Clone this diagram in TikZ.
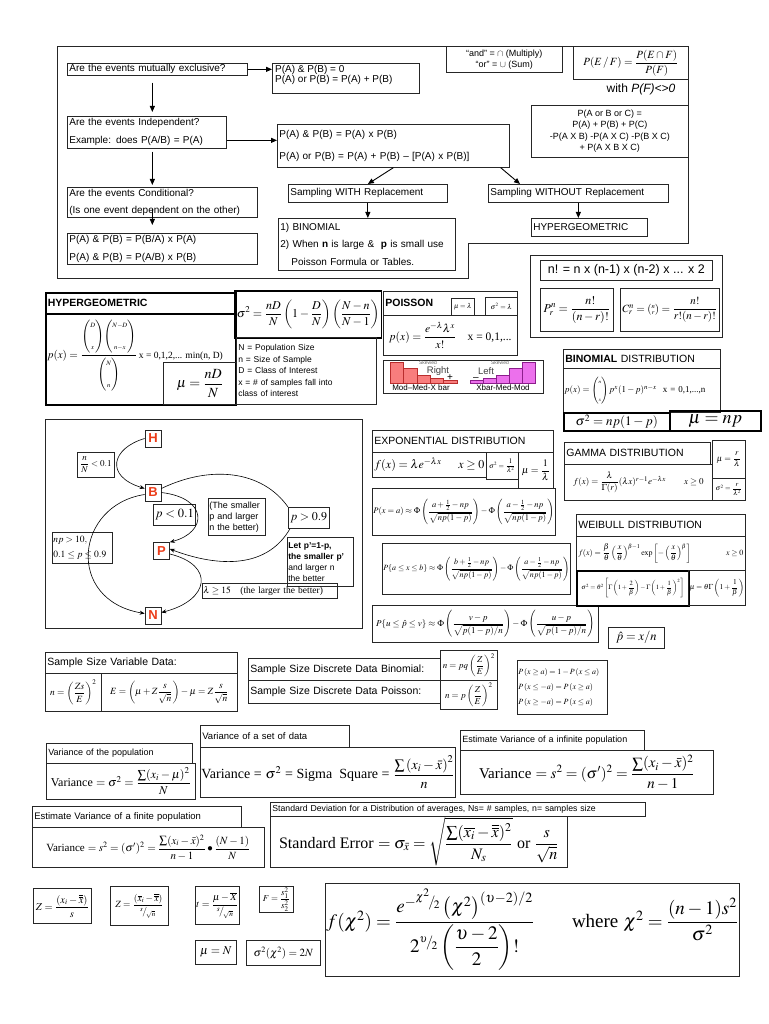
\documentclass[tikz,border=0pt]{standalone}
\usepackage{amsmath}
\usepackage{mathptmx}
\usepackage[no-math]{fontspec}
\setmainfont{Liberation Sans}
\newfontfamily\tms{Liberation Serif}
\usetikzlibrary{arrows.meta,positioning}

\definecolor{tagred}{RGB}{235,60,25}
\definecolor{rbarfill}{RGB}{248,125,125}
\definecolor{rbarline}{RGB}{185,45,45}
\definecolor{lbarfill}{RGB}{236,112,236}
\definecolor{lbarline}{RGB}{140,30,140}

\newcommand{\fs}[2]{\fontsize{#1}{#2}\selectfont}
\newcommand{\tb}[3][5pt]{\left(\begin{array}{@{}c@{}}\scriptscriptstyle #2\\[#1]\scriptscriptstyle #3\end{array}\right)}

\begin{document}
\begin{tikzpicture}[x=1pt, y=-1pt,
    % boxes are placed by their top left corner
    box/.style={draw=black!85, line width=0.7pt, inner sep=2pt, anchor=north west},
    thk/.style={line width=1.5pt, draw=black},
    sz/.style 2 args={minimum width=#1pt, minimum height=#2pt},
    lft/.style={text width=#1pt, align=left},
    arr/.style={-{Triangle[length=6pt,width=5pt]}, line width=0.9pt},
    curv/.style={-{Stealth[length=5pt,width=4pt]}, line width=0.6pt},
    tag/.style={draw=black!85, line width=0.7pt, inner sep=0pt, minimum width=16pt, minimum height=17pt, text=tagred, font=\fs{13}{13}\bfseries},
    txt/.style={inner sep=0pt}
  ]
\useasboundingbox (0,0) rectangle (768,1024);

% --- regras de probabilidade (moldura de cima) ---
\draw[line width=0.8pt, draw=black!85] (57,46) -- (688,46) -- (688,243) -- (468,243) -- (468,278) -- (57,278) -- cycle;
\node[box, sz={180}{12}, lft=176, inner ysep=0pt, font=\fs{10}{12}] (mutex) at (67,63) {Are the events mutually exclusive?};
\node[box, sz={147}{30}] (mutexres) at (272,63) {};
\node[txt, anchor=north west, align=left, font=\fs{10}{10}] (mutexres-t) at ([xshift=3pt,yshift=-2pt]mutexres.north west) {P(A) \& P(B) = 0\\P(A) or P(B) = P(A) + P(B)};
\node[box, sz={159}{32}, lft=155, font=\fs{10}{18}] (indep) at (67,116) {Are the events Independent?\\Example: does P(A/B) = P(A)};
\node[box, sz={232}{43}, lft=228, font=\fs{10}{22}] (indepres) at (277,124) {P(A) \& P(B) = P(A) x P(B)\\P(A) or P(B) = P(A) + P(B) -- [P(A) x P(B)]};
\node[box, sz={190}{30}, lft=186, font=\fs{10}{17}] (cond) at (67,187) {Are the events Conditional?\\(Is one event dependent on the other)};
\node[box, sz={190}{31}, lft=186, font=\fs{10}{18}] (condres) at (67,233) {P(A) \& P(B) = P(B/A) x P(A)\\P(A) \& P(B) = P(A/B) x P(B)};
\node[box, sz={159}{18}, lft=155, font=\fs{10}{12}] (withr) at (288,184) {Sampling WITH Replacement};
\node[box, sz={177}{52}, lft=173, font=\fs{10}{17.5}] (binpois) at (278,218) {1) BINOMIAL\\2) When \textbf{n} is large \& \ \textbf{p} is small use\\\hspace*{11pt}Poisson Formula or Tables.};
\node[box, sz={116}{26}, align=center, font=\fs{9}{11}] (andor) at (446,46) {``and'' = $\cap$ (Multiply)\\``or'' = $\cup$ (Sum)};
\node[box, sz={115}{33}, font=\fs{11}{13}] (pef) at (573,46) {$P(E\,/\,F)=\dfrac{P(E\cap F)}{P(F)}$};
\node[txt, font=\fs{12}{14}] (pefnote) at (641,89) {with \textit{P(F)<>0}};
\node[box, sz={157}{52}, align=center, font=\fs{9}{11.5}] (pabc) at (531,105) {P(A or B or C) =\\P(A) + P(B) + P(C)\\-P(A X B) -P(A X C) -P(B X C)\\+ P(A X B X C)};
\node[box, sz={180}{18}, lft=176, font=\fs{10}{12}] (withoutr) at (488,184) {Sampling WITHOUT Replacement};
\node[box, sz={116}{18}, lft=112, font=\fs{10}{12}] (hyperA) at (531,218) {HYPERGEOMETRIC};

\draw[arr] (mutex.east) -- (mutex.east -| mutexres.west);
\draw[arr, shorten <=7pt, shorten >=4pt] ([xshift=-5pt]mutex.south) -- ([xshift=-5pt]mutex.south |- indep.north);
\draw[arr] ([yshift=-8pt]indep.east) -- ([yshift=-8pt]indep.east -| indepres.west);
\draw[arr, shorten <=3pt, shorten >=2pt] ([xshift=-5pt]mutex.south |- indep.south) -- ([xshift=-5pt]mutex.south |- cond.north);
\draw[arr, shorten >=8pt] ([xshift=-5pt,yshift=9pt]mutex.south |- cond.south) -- ([xshift=-5pt]mutex.south |- condres.north);
\draw[arr] (indepres.south) -- (withr.north);
\draw[arr] ([xshift=-9pt]indepres.south east) -- ([xshift=32pt]withoutr.north west);
\draw[arr] (withr.south) -- (withr.south |- binpois.north);
\draw[arr] (withoutr.south) -- (withoutr.south |- hyperA.north);

% --- hipergeometrica ---
\node[box, thk, sz={190}{21}, lft=186, font=\fs{10.5}{12}\bfseries] (hyptitle) at (45,292) {HYPERGEOMETRIC};
\node[box, thk, sz={190}{91}] (hypbox) at (45,313) {};
\node[txt, anchor=west, font=\fs{11}{13}] (hypf) at ([xshift=2pt,yshift=4pt]hypbox.west) {$p(x)=\dfrac{\tb[9pt]{D}{x}\!\tb[9pt]{N-D}{n-x}}{\tb[9pt]{N}{n}}$\,{\tms\fs{9.5}{12}x = 0,1,2,... min(n, D)}};
\node[box, sz={73}{42}, font=\fs{14}{16}] (hypmu) at (163,362) {$\mu=\dfrac{nD}{N}$};
\node[box, thk, sz={138}{47}, font=\fs{12}{14}] (hypsig) at (234,290) {$\sigma^2=\dfrac{nD}{N}\left(1-\dfrac{D}{N}\right)\left(\dfrac{N-n}{N-1}\right)$};
\node[box, sz={140}{67}, lft=136, font=\fs{8.5}{11.5}] (hypvars) at (236,337) {N = Population Size\\n = Size of Sample\\D = Class of Interest\\x = \# of samples fall into\\class of interest};

% --- poisson ---
\node[box, sz={134}{24}, lft=130, font=\fs{10.5}{12}\bfseries] (poistitle) at (383,291) {POISSON};
\node[box, sz={23}{17}, inner sep=0pt, font=\fs{7}{8}] (poismu) at (451,298) {$\mu=\lambda$};
\node[box, sz={32}{18}, inner sep=0pt, font=\fs{7}{8}] (poissig) at (485,297) {$\sigma^2=\lambda$};
\node[box, sz={134}{40}, font=\fs{11.5}{14}] (poisf) at (383,315) {$p(x)=\dfrac{e^{-\lambda}\lambda^x}{x!}$\quad{\tms x = 0,1,...}};

% grafico de assimetria
\draw[line width=0.7pt, draw=black!85] (383,360) rectangle (543,393);
\foreach \i/\t in {0/362,1/368,2/375,3/378,4/380}
  \draw[fill=rbarfill, draw=rbarline, line width=0.6pt] ({390+13.4*\i},383) rectangle ++(13.4,{\t-383});
\foreach \i/\t in {0/380,1/378,2/375,3/368,4/362}
  \draw[fill=lbarfill, draw=lbarline, line width=0.6pt] ({470+13*\i},383) rectangle ++(13,{\t-383});
\node[txt, font=\fs{5}{6}, text=black!60] (skr) at (428,363) {Skewed};
\node[txt, font=\fs{9.5}{10}, text=black!75] (rgt) at (438,371) {Right};
\node[txt, font=\fs{10}{10}] (plus) at (450,378) {+};
\node[txt, font=\fs{5}{6}, text=black!60] (skl) at (500,363) {Skewed};
\node[txt, font=\fs{9.5}{10}, text=black!75] (lefttxt) at (486,371) {Left};
\node[txt, font=\fs{10}{10}] (minus) at (476,379) {--};
\node[txt, font=\fs{8}{9}] (modr) at (421,388) {Mod--Med-X bar};
\node[txt, font=\fs{8}{9}] (modl) at (503,388) {Xbar-Med-Mod};

% --- fatorial, permutacao, combinacao ---
\node[box, sz={192}{82}] (nfact) at (530,255) {};
\node[box, sz={172}{20}, font=\fs{12.5}{14}] (nfline) at (540,260) {n! = n x (n-1) x (n-2) x ... x 2};
\node[box, sz={73}{43}, font=\fs{12}{14}] (perm) at (540,288) {$P_r^n=\dfrac{n!}{(n-r)!}$};
\node[box, sz={92}{43}, font=\fs{11}{13}] (comb) at (620,288) {$C_r^n={\scriptstyle\binom{n}{r}}=\dfrac{n!}{r!(n-r)!}$};

% --- binomial ---
\node[box, sz={157}{19}, lft=153, font=\fs{10.5}{12}] (bintitle) at (563,349) {\textbf{BINOMIAL} DISTRIBUTION};
\node[box, sz={157}{44}, lft=155, inner xsep=1pt, font=\fs{9}{11}] (binf) at (563,368) {$p(x)=\tb[7pt]{n}{x}p^x(1-p)^{n-x}$\ \ {\tms x = 0,1,...,n}};
\node[box, thk, sz={106}{18}, font=\fs{13}{14}] (binsig) at (563,412) {$\sigma^2=np(1-p)$};
\node[box, thk, sz={91}{20}, font=\fs{18}{19}] (binmu) at (669,410) {$\boldsymbol{\mu=np}$};

% --- exponencial e aproximacoes normais ---
\node[box, sz={181}{22}, lft=177, font=\fs{10.5}{12}] (exptitle) at (372,430) {EXPONENTIAL DISTRIBUTION};
\node[box, sz={114}{25}, lft=110, font=\fs{12}{14}] (expf) at (372,452) {$f(x)=\lambda e^{-\lambda x}$\hfill$x\ge 0$};
\node[box, sz={32}{27}, inner sep=0pt, font=\fs{7}{8}] (expsig) at (486,452) {$\sigma^2=\dfrac{1}{\lambda^2}$};
\node[box, sz={35}{36}, inner sep=1pt, font=\fs{10}{12}] (expmu) at (518,452) {$\mu=\dfrac{1}{\lambda}$};
\node[box, sz={181}{47}, inner sep=1pt, font=\fs{8.5}{10}] (norma) at (372,488) {$P(x=a)\approx\Phi\left(\dfrac{a+\frac{1}{2}-np}{\sqrt{np(1-p)}}\right)-\Phi\left(\dfrac{a-\frac{1}{2}-np}{\sqrt{np(1-p)}}\right)$};
\node[box, sz={183}{51}, inner sep=1pt, font=\fs{8}{10}] (normb) at (382,543) {$P\{a\le x\le b\}\approx\Phi\left(\dfrac{b+\frac{1}{2}-np}{\sqrt{np(1-p)}}\right)-\Phi\left(\dfrac{a-\frac{1}{2}-np}{\sqrt{np(1-p)}}\right)$};
\node[box, sz={226}{37}, inner sep=1pt, font=\fs{9}{11}] (normc) at (372,605) {$P\{u\le\hat p\le v\}\approx\Phi\left(\dfrac{v-p}{\sqrt{p(1-p)/n}}\right)-\Phi\left(\dfrac{u-p}{\sqrt{p(1-p)/n}}\right)$};
\node[box, sz={56}{21}, font=\fs{12.5}{14}] (phat) at (608,627) {$\hat p=x/n$};

% --- gama ---
\node[box, sz={146}{22}, lft=142, font=\fs{10.5}{12}] (gamtitle) at (564,442) {GAMMA DISTRIBUTION};
\node[box, sz={148}{36}, inner sep=1pt, font=\fs{9}{11}] (gamf) at (564,464) {$f(x)=\dfrac{\lambda}{\Gamma(r)}(\lambda x)^{r-1}e^{-\lambda x}$\qquad$x\ge 0$};
\node[box, sz={33}{38}, inner sep=0pt, font=\fs{8.5}{10}] (gammu) at (712,440) {$\mu=\dfrac{r}{\lambda}$};
\node[box, sz={33}{22}, inner sep=0pt, font=\fs{7}{8}] (gamsig) at (712,478) {$\sigma^2=\dfrac{r}{\lambda^2}$};

% --- weibull ---
\node[box, sz={169}{22}, lft=165, font=\fs{10.5}{12}] (weibtitle) at (576,514) {WEIBULL DISTRIBUTION};
\node[box, sz={169}{34}, lft=165, font=\fs{8}{10}] (weibf) at (576,536) {$f(x)=\dfrac{\beta}{\theta}\left(\dfrac{x}{\theta}\right)^{\beta-1}\exp\left[-\left(\dfrac{x}{\theta}\right)^{\beta}\right]$\hfill$x\ge 0$};
\node[box, thk, sz={112}{35}, inner sep=1pt, font=\fs{6.5}{8}] (weibsig) at (576,570) {$\sigma^2=\theta^2\left[\Gamma\left(1+\dfrac{2}{\beta}\right)-\Gamma\left(1+\dfrac{1}{\beta}\right)^{2}\right]$};
\node[box, sz={57}{35}, inner sep=1pt, font=\fs{7.5}{8}] (weibmu) at (688,570) {$\mu=\theta\Gamma\left(1+\dfrac{1}{\beta}\right)$};

% --- H, B, P, N ---
\draw[line width=0.8pt, draw=black!85] (45,419) rectangle (362,628);
\node[tag] (H) at (153,438.5) {H};
\node[tag] (B) at (153,492.5) {B};
\node[tag] (P) at (161.5,551) {P};
\node[tag] (N) at (153,615.5) {N};
\node[box, sz={37}{25}, inner sep=1pt, font=\fs{9}{10}] (nN) at (77,452) {$\dfrac{n}{N}<0.1$};
\node[box, sz={40}{21}, font=\fs{12.5}{14}] (plow) at (153,504) {$p<0.1$};
\node[box, sz={57}{37}, lft=55, inner sep=1pt, font=\fs{9}{11}] (smaller) at (208,498) {(The smaller\\p and larger\\n the better)};
\node[box, sz={39}{21}, font=\fs{12}{14}] (phigh) at (288,507) {$p>0.9$};
\node[box, sz={60}{31}, lft=58, inner sep=1pt, font=\fs{9.5}{15}] (npbox) at (52,532) {$np>10,$\\$0.1\le p\le 0.9$};
\node[box, sz={66}{49}, lft=64, inner sep=1pt, font=\fs{8.5}{11}] (letp) at (287,537) {\textbf{Let p'=1-p,}\\\textbf{the smaller p'}\\and larger n\\the better};
\node[box, sz={135}{15}, lft=133, inner sep=1pt, font=\fs{9.5}{11}] (lam) at (202,583) {$\lambda\ge 15$\quad{\tms (the larger the better)}};

\draw[curv] (H.west) .. controls (112,448) and (104,476) .. ([yshift=4pt]B.west);
\draw[line width=0.6pt] ([yshift=4pt]B.east) .. controls (210,465) and (262,470) .. (phigh.north west);
\draw[curv] ([xshift=2pt]phigh.south west) .. controls (265,572) and (212,565) .. ([yshift=2pt]P.east);
\draw[curv] (B.east) .. controls (208,498) and (208,532) .. (P.north east);
\draw[curv] ([yshift=-2pt]B.west) .. controls (75,505) and (65,600) .. ([yshift=2pt]N.west);
\draw[curv] ([yshift=-3pt]P.east) .. controls (215,565) and (210,600) .. ([yshift=3pt]N.east);

% --- tamanho de amostra ---
\node[box, sz={192}{21}, lft=188, font=\fs{10.5}{12}] (ssvtitle) at (45,652) {Sample Size Variable Data:};
\node[box, sz={56}{38}, inner sep=1pt, font=\fs{9.5}{11}] (ssvn) at (45,673) {$n=\left(\dfrac{Zs}{E}\right)^2$};
\node[box, sz={136}{38}, inner sep=1pt, font=\fs{9.5}{11}] (ssve) at (101,673) {$E=\left(\mu+Z\dfrac{s}{\sqrt{n}}\right)-\mu=Z\dfrac{s}{\sqrt{n}}$};
\node[box, sz={192}{22}, lft=188, font=\fs{10.5}{12}] (ssbtitle) at (248,658) {Sample Size Discrete Data Binomial:};
\node[box, sz={57}{30}, inner sep=1pt, font=\fs{9}{10}] (ssbn) at (440,650) {$n=pq\left(\dfrac{Z}{E}\right)^2$};
\node[box, sz={192}{23}, lft=188, font=\fs{10.5}{12}] (ssptitle) at (248,680) {Sample Size Discrete Data Poisson:};
\node[box, sz={57}{29}, inner sep=1pt, font=\fs{9}{10}] (sspn) at (440,680) {$n=p\left(\dfrac{Z}{E}\right)^2$};
\node[box, sz={90}{54}, lft=88, inner sep=1pt, font=\fs{8}{15}] (pxa) at (517,660) {$P\left(x\ge a\right)=1-P\left(x\le a\right)$\\$P\left(x\le -a\right)=P\left(x\ge a\right)$\\$P\left(x\ge -a\right)=P\left(x\le a\right)$};

% --- variancias ---
\node[box, sz={146}{20}, lft=142, font=\fs{9}{11}] (vptitle) at (46,743) {Variance of the population};
\node[box, sz={149}{36}, inner sep=1pt, font=\fs{12}{14}] (vpbox) at (46,763) {{\tms Variance} $=\sigma^2=\dfrac{\sum(x_i-\mu)^2}{N}$};
\node[box, sz={149}{22}, lft=145, font=\fs{9.5}{11}] (vstitle) at (200,725) {Variance of a set of data};
\node[box, sz={251}{50}, inner sep=1pt, font=\fs{14}{16}] (vsbox) at (200,747) {{\tms Variance =} $\sigma^2$ {\tms = Sigma\ \ Square =} $\dfrac{\sum\left(x_i-\bar{x}\right)^2}{n}$};
\node[box, sz={184}{20}, lft=180, font=\fs{9}{11}] (vititle) at (460,730) {Estimate Variance of a infinite population};
\node[box, sz={253}{44}, inner sep=1pt, font=\fs{15}{17}] (vibox) at (460,750) {{\tms Variance} $= s^2 = (\sigma')^2 = \dfrac{\sum(x_i-\bar{x})^2}{n-1}$};
\node[box, sz={209}{21}, lft=205, font=\fs{9.5}{11}] (vftitle) at (32,806) {Estimate Variance of a finite population};
\node[box, sz={232}{40}, inner sep=1pt, font=\fs{11}{13}] (vfbox) at (32,827) {{\tms Variance} $=s^2=(\sigma')^2=\dfrac{\sum(x_i-\bar{x})^2}{n-1}\bullet\dfrac{(N-1)}{N}$};
\node[box, sz={375}{14}, inner ysep=0pt, lft=371, font=\fs{8.7}{10}] (sdtitle) at (270,802) {Standard Deviation for a Distribution of averages, Ns= \# samples, n= samples size};
\node[box, sz={297}{51}, inner sep=1pt, font=\fs{16}{18}] (sebox) at (270,816) {{\tms Standard Error} $=\sigma_{\bar{x}}=\sqrt{\dfrac{\sum(\overline{x_i}-\overline{\overline{x}})^2}{N_s}}$ {\tms or} $\dfrac{s}{\sqrt{n}}$};

% --- estatisticas de teste ---
\node[box, sz={58}{35}, inner sep=1pt, font=\fs{10.5}{12}] (zone) at (33,888) {$Z=\dfrac{(x_i-\overline{\overline{x}})}{s}$};
\node[box, sz={58}{39}, inner sep=1pt, font=\fs{9.5}{11}] (ztwo) at (110,886) {$Z=\dfrac{(\overline{x}_i-\overline{\overline{x}})}{{}^{s}\!/\!_{\sqrt{n}}}$};
\node[box, sz={41}{38}, inner sep=1pt, font=\fs{10}{11}] (tstat) at (195,886) {$t=\dfrac{\mu-\overline{X}}{{}^{s}\!/\!_{\sqrt{n}}}$};
\node[box, sz={34}{25}, inner sep=1pt, font=\fs{9}{10}] (fstat) at (259,886) {$F=\dfrac{s_1^2}{s_2^2}$};
\node[box, sz={394}{93}, inner sep=1pt, font=\fs{19}{21}] (chi) at (325,883) {$f(\chi^2)=\dfrac{e^{-{}^{\chi^2}\!/\!_{2}}\left(\chi^2\right)^{(\upsilon-2)/2}}{2^{{}^{\upsilon}\!/\!_{2}}\left(\dfrac{\upsilon-2}{2}\right)!}$\qquad{\tms where} $\chi^2=\dfrac{(n-1)s^2}{\sigma^2}$};
\node[box, sz={41}{24}, inner sep=1pt, font=\fs{12}{14}] (mun) at (195,940) {$\mu=N$};
\node[box, sz={74}{25}, inner sep=1pt, font=\fs{11}{13}] (sigchi) at (246,940) {$\sigma^2(\chi^2)=2N$};
\end{tikzpicture}
\end{document}
